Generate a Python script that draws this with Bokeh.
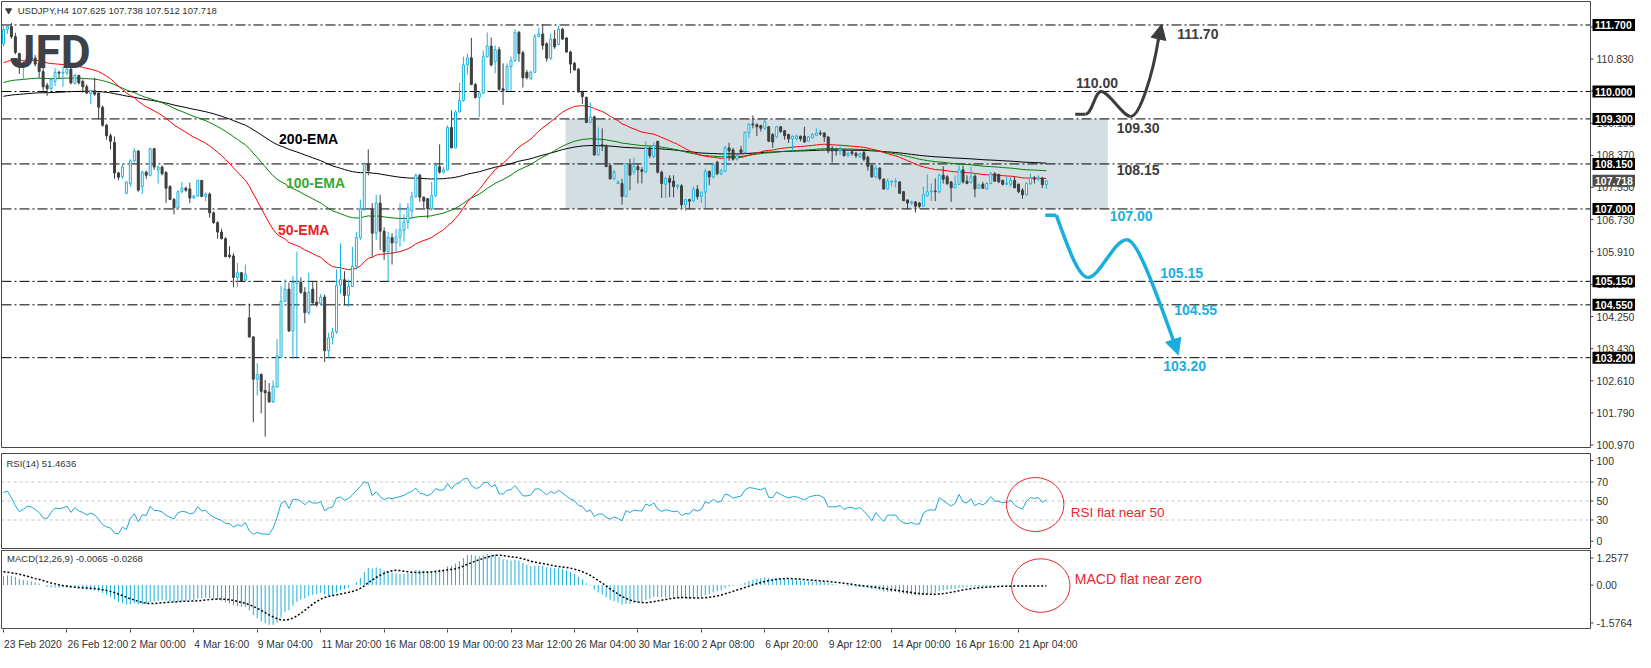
import numpy as np
from bokeh.plotting import figure
from bokeh.layouts import column
from bokeh.models import (Range1d, FixedTicker, Label, Arrow, NormalHead,
                          ColumnDataSource, LinearAxis)
from bokeh.core.properties import value
from bokeh.embed import file_html
from bokeh.resources import INLINE

# ---------------- data (USDJPY H4) ----------------
OPEN = [111.22, 111.59, 111.66, 111.40, 110.97, 110.64, 110.74, 110.87, 110.85, 110.72,
        110.51, 110.16, 110.07, 110.26, 110.49, 110.47, 110.47, 110.57, 110.21, 110.41,
        110.26, 110.12, 109.95, 110.02, 109.96, 109.60, 109.14, 108.87, 108.70, 107.92,
        107.83, 107.40, 107.65, 108.23, 108.48, 107.57, 107.94, 107.86, 108.54, 108.00,
        108.07, 107.93, 107.57, 107.24, 107.03, 107.44, 107.53, 107.51, 107.28, 107.33,
        107.73, 107.32, 107.38, 106.90, 106.65, 106.41, 106.24, 105.82, 105.80, 105.25,
        105.37, 105.18, 104.22, 103.73, 102.65, 102.77, 102.36, 102.32, 102.07, 102.45,
        103.21, 104.64, 104.95, 103.88, 105.10, 105.12, 104.87, 104.35, 104.95, 104.62,
        104.58, 104.75, 103.38, 103.71, 103.86, 105.05, 105.19, 104.79, 105.02, 105.54,
        106.27, 107.01, 108.15, 107.01, 106.38, 107.15, 106.43, 105.91, 106.27, 106.13,
        106.28, 106.45, 106.66, 106.95, 107.32, 107.86, 107.30, 107.26, 107.01, 107.34,
        108.08, 107.94, 108.00, 109.08, 108.56, 109.48, 109.77, 110.68, 110.86, 110.18,
        109.85, 109.96, 110.89, 111.16, 110.76, 111.07, 110.07, 110.04, 110.64, 110.79,
        111.51, 110.99, 110.49, 110.32, 110.49, 111.41, 111.47, 111.22, 110.85, 111.34,
        111.20, 111.59, 111.37, 111.01, 110.72, 110.57, 109.99, 109.85, 109.21, 109.35,
        108.38, 108.64, 108.60, 108.11, 107.77, 107.65, 107.65, 107.32, 108.15, 107.94,
        108.08, 108.00, 107.94, 108.56, 108.34, 108.73, 107.94, 107.63, 107.78, 107.71,
        107.57, 107.59, 107.11, 107.24, 107.20, 107.50, 107.32, 107.43, 107.96, 107.82,
        108.19, 107.90, 107.96, 108.56, 108.51, 108.27, 108.51, 108.44, 108.95, 109.17,
        109.15, 109.13, 109.06, 109.10, 108.90, 108.84, 109.10, 109.00, 108.90, 108.79,
        108.80, 108.86, 108.86, 108.73, 108.82, 108.88, 108.94, 108.94, 108.84, 108.54,
        108.52, 108.48, 108.51, 108.37, 108.46, 108.42, 108.34, 108.44, 108.32, 108.11,
        107.82, 108.04, 107.76, 107.51, 107.69, 107.69, 107.69, 107.44, 107.23, 107.15,
        107.18, 107.15, 107.07, 107.34, 107.44, 107.46, 107.44, 107.86, 107.82, 107.69,
        107.54, 107.63, 108.00, 107.71, 107.68, 107.84, 107.53, 107.63, 107.51, 107.65,
        107.90, 107.88, 107.73, 107.63, 107.63, 107.73, 107.63, 107.48, 107.36, 107.65,
        107.79, 107.76, 107.79, 107.625]
HIGH = [111.68, 111.72, 111.75, 111.50, 110.99, 110.80, 110.95, 110.96, 110.93, 110.80,
        110.60, 110.22, 110.35, 110.60, 110.53, 110.64, 110.72, 110.60, 110.45, 110.43,
        110.31, 110.18, 110.03, 110.35, 109.98, 109.64, 109.18, 108.93, 108.85, 107.95,
        108.15, 107.69, 108.27, 108.55, 108.50, 107.98, 107.98, 108.56, 108.56, 108.11,
        108.11, 107.97, 107.61, 107.28, 107.48, 107.69, 107.57, 107.67, 107.36, 107.74,
        107.74, 107.42, 107.42, 106.94, 106.69, 106.49, 106.28, 106.05, 105.87, 105.62,
        105.39, 105.58, 104.58, 103.75, 103.06, 102.80, 102.63, 102.55, 102.62, 103.67,
        105.04, 105.20, 105.12, 105.29, 105.91, 105.25, 105.00, 105.37, 105.16, 105.16,
        104.83, 104.81, 103.83, 103.96, 105.45, 106.12, 105.41, 105.20, 106.03, 106.41,
        107.24, 108.19, 108.52, 107.15, 107.36, 107.36, 106.53, 106.41, 106.38, 106.49,
        107.15, 106.86, 107.15, 107.44, 107.90, 107.90, 107.32, 107.28, 107.69, 108.19,
        108.65, 108.07, 109.14, 109.52, 109.52, 110.22, 110.89, 110.97, 111.37, 110.22,
        109.99, 111.05, 111.51, 111.38, 111.18, 111.14, 110.72, 110.72, 110.89, 111.59,
        111.55, 111.04, 110.55, 110.54, 111.47, 111.63, 111.72, 111.26, 111.48, 111.57,
        111.68, 111.63, 111.38, 111.04, 110.76, 110.60, 110.02, 109.87, 109.72, 109.39,
        109.08, 109.06, 108.65, 108.13, 108.00, 107.73, 107.77, 108.16, 108.28, 108.31,
        108.15, 108.07, 108.73, 108.60, 108.70, 108.73, 107.98, 107.82, 107.86, 107.86,
        107.63, 107.63, 107.24, 107.26, 107.57, 107.61, 107.44, 108.03, 107.98, 108.15,
        108.23, 108.01, 108.61, 108.69, 108.56, 108.40, 108.61, 108.98, 109.19, 109.39,
        109.19, 109.15, 109.28, 109.12, 108.94, 109.12, 109.12, 109.02, 108.92, 108.87,
        108.90, 108.87, 109.10, 108.86, 108.94, 109.06, 109.01, 108.96, 108.86, 108.61,
        108.56, 108.62, 108.52, 108.46, 108.50, 108.46, 108.44, 108.48, 108.36, 108.13,
        108.11, 108.07, 107.78, 107.78, 107.73, 107.78, 107.71, 107.46, 107.24, 107.21,
        107.20, 107.18, 107.57, 107.88, 107.65, 107.78, 107.90, 108.09, 107.86, 107.71,
        107.86, 108.11, 108.11, 107.86, 108.07, 107.88, 107.65, 107.69, 107.68, 107.94,
        107.94, 107.90, 107.75, 107.82, 107.82, 107.82, 107.65, 107.53, 107.68, 107.90,
        107.84, 107.86, 107.82, 107.738]
LOW = [111.15, 111.47, 111.35, 110.95, 110.45, 110.32, 110.70, 110.80, 110.64, 110.35,
       110.02, 109.89, 110.02, 110.14, 110.35, 110.12, 110.41, 110.18, 110.18, 110.18,
       109.97, 109.93, 109.68, 109.89, 109.29, 109.10, 108.77, 108.52, 107.77, 107.73,
       107.77, 107.38, 107.57, 108.19, 107.44, 107.38, 107.77, 107.83, 108.00, 107.65,
       107.86, 107.15, 107.24, 106.86, 107.00, 107.40, 107.44, 107.15, 107.26, 107.32,
       107.32, 107.20, 106.78, 106.62, 106.24, 106.22, 105.77, 105.74, 105.00, 105.00,
       105.14, 105.16, 103.71, 101.55, 102.23, 101.78, 101.18, 102.05, 102.05, 102.43,
       103.20, 104.62, 103.86, 103.20, 103.21, 104.83, 104.08, 104.29, 104.58, 104.50,
       104.54, 103.09, 103.20, 103.54, 103.81, 104.83, 104.54, 104.50, 105.00, 105.45,
       106.20, 106.95, 107.86, 105.78, 106.20, 105.95, 105.70, 105.14, 105.58, 105.87,
       106.03, 106.16, 106.49, 106.74, 107.28, 107.18, 107.03, 106.76, 106.95, 107.30,
       107.90, 107.90, 107.98, 108.55, 108.55, 109.46, 109.74, 110.43, 110.16, 109.82,
       109.35, 109.94, 110.87, 110.64, 110.47, 110.02, 109.66, 110.02, 110.02, 110.76,
       110.76, 110.10, 110.31, 110.31, 110.47, 111.38, 111.07, 110.76, 110.80, 111.09,
       111.18, 111.31, 110.99, 110.47, 110.54, 109.97, 109.68, 109.19, 109.19, 108.36,
       108.36, 108.48, 108.07, 107.75, 107.73, 107.63, 107.11, 107.30, 107.48, 107.88,
       107.65, 107.65, 107.92, 108.30, 108.30, 107.90, 107.28, 107.28, 107.30, 107.30,
       107.50, 107.03, 106.95, 107.00, 107.18, 107.24, 107.15, 107.03, 107.61, 107.78,
       107.86, 107.86, 107.94, 108.23, 108.23, 108.23, 108.40, 108.40, 108.81, 109.06,
       108.86, 108.98, 109.02, 108.71, 108.56, 108.81, 108.94, 108.77, 108.69, 108.48,
       108.75, 108.73, 108.69, 108.71, 108.79, 108.86, 108.87, 108.71, 108.42, 108.19,
       108.36, 108.38, 108.34, 108.32, 108.36, 108.30, 108.30, 108.22, 107.98, 107.80,
       107.78, 107.73, 107.49, 107.49, 107.57, 107.55, 107.38, 107.20, 106.99, 107.11,
       106.91, 107.03, 107.05, 107.32, 107.20, 107.20, 107.40, 107.65, 107.61, 107.18,
       107.53, 107.61, 107.65, 107.63, 107.65, 107.30, 107.51, 107.51, 107.49, 107.63,
       107.69, 107.66, 107.60, 107.61, 107.57, 107.53, 107.40, 107.26, 107.35, 107.61,
       107.65, 107.71, 107.53, 107.512]
CLOSE = [111.59, 111.66, 111.40, 111.00, 110.64, 110.74, 110.89, 110.84, 110.70, 110.51,
         110.12, 110.07, 110.31, 110.49, 110.47, 110.49, 110.57, 110.22, 110.41, 110.22,
         110.12, 109.96, 110.03, 109.93, 109.60, 109.14, 108.87, 108.73, 107.92, 107.81,
         108.07, 107.69, 108.23, 108.48, 107.48, 107.94, 107.86, 108.54, 108.07, 108.07,
         107.90, 107.53, 107.24, 107.03, 107.44, 107.53, 107.48, 107.28, 107.33, 107.73,
         107.32, 107.38, 106.90, 106.65, 106.41, 106.24, 105.78, 105.78, 105.25, 105.37,
         105.16, 105.33, 103.73, 102.65, 102.77, 102.34, 102.30, 102.07, 102.47, 103.25,
         104.64, 104.95, 103.88, 105.12, 105.15, 104.87, 104.35, 104.87, 104.60, 104.56,
         104.75, 103.38, 103.71, 103.86, 105.05, 105.20, 104.79, 105.02, 105.54, 106.27,
         107.01, 108.15, 107.98, 106.38, 107.15, 106.43, 105.91, 106.27, 106.13, 106.28,
         106.47, 106.66, 107.03, 107.32, 107.86, 107.30, 107.20, 107.01, 107.34, 108.11,
         107.94, 108.00, 109.08, 108.56, 109.48, 109.77, 110.68, 110.86, 110.18, 109.85,
         109.96, 110.89, 111.16, 110.68, 111.07, 110.06, 110.02, 110.64, 110.79, 111.51,
         110.97, 110.35, 110.35, 110.49, 111.41, 111.47, 111.18, 110.85, 111.34, 111.14,
         111.59, 111.34, 111.01, 110.70, 110.55, 109.99, 109.87, 109.21, 109.35, 108.38,
         108.60, 108.60, 108.08, 107.77, 107.94, 107.69, 107.32, 108.16, 107.86, 108.08,
         108.00, 107.96, 108.56, 108.36, 108.62, 107.94, 107.65, 107.78, 107.68, 107.57,
         107.61, 107.11, 107.24, 107.20, 107.50, 107.32, 107.43, 107.96, 107.82, 108.13,
         107.90, 107.98, 108.56, 108.48, 108.27, 108.37, 108.44, 108.95, 109.17, 109.15,
         109.10, 109.06, 109.23, 108.73, 108.71, 109.10, 108.98, 108.87, 108.79, 108.86,
         108.86, 108.79, 108.71, 108.84, 108.90, 108.94, 108.92, 108.84, 108.48, 108.48,
         108.48, 108.52, 108.36, 108.42, 108.42, 108.36, 108.40, 108.27, 108.09, 107.82,
         108.04, 107.78, 107.51, 107.71, 107.71, 107.71, 107.40, 107.21, 107.15, 107.18,
         107.07, 107.07, 107.36, 107.44, 107.46, 107.44, 107.86, 107.76, 107.65, 107.54,
         107.63, 108.00, 107.69, 107.65, 107.82, 107.51, 107.61, 107.53, 107.65, 107.90,
         107.71, 107.69, 107.63, 107.65, 107.73, 107.54, 107.44, 107.36, 107.65, 107.79,
         107.76, 107.79, 107.62, 107.718]

DATE_TICKS = [0, 16, 32, 48, 64, 80, 96, 112, 128, 144, 160, 176, 192, 208, 224, 240, 256]
DATE_LABELS = ["23 Feb 2020", "26 Feb 12:00", "2 Mar 00:00", "4 Mar 16:00", "9 Mar 04:00",
               "11 Mar 20:00", "16 Mar 08:00", "19 Mar 00:00", "23 Mar 12:00", "26 Mar 04:00",
               "30 Mar 16:00", "2 Apr 08:00", "6 Apr 20:00", "9 Apr 12:00", "14 Apr 00:00",
               "16 Apr 16:00", "21 Apr 04:00"]
PRICE_TICKS = [100.97, 101.79, 102.61, 103.43, 104.25, 105.07, 105.91, 106.73, 107.55,
               108.37, 109.19, 110.01, 110.83, 111.65]
LEVELS = [111.70, 110.00, 109.30, 108.15, 107.00, 105.15, 104.55, 103.20]
LAST_PRICE = 107.718
RANGE_BOX = dict(left=141.75, right=278.5, bottom=107.00, top=109.30)
RSI_LEVELS = [30, 50, 70]
RSI_SCALE = [0, 30, 50, 70, 100]
MACD_LO, MACD_HI = -1.5764, 1.2577

# indicator starting states (values before the first bar)
EMA_SEEDS = {50: 110.70, 100: 110.20, 200: 109.86}
RSI_PREV_CLOSE, RSI_AVG_GAIN, RSI_AVG_LOSS = 111.25, 0.075, 0.070
MACD_EMA12, MACD_EMA26, MACD_SIGNAL_PREV = 111.00, 110.70, 0.50

# ---------------- indicators ----------------
closes = np.array(CLOSE)
n = len(closes)
idx = np.arange(n)

def ema(vals, period, seed):
    a = 2.0 / (period + 1)
    out, e = [], seed
    for v in vals:
        e = e + a * (v - e)
        out.append(e)
    return np.array(out)

ema50 = ema(closes, 50, EMA_SEEDS[50])
ema100 = ema(closes, 100, EMA_SEEDS[100])
ema200 = ema(closes, 200, EMA_SEEDS[200])

rsi = []
prev, ag, al = RSI_PREV_CLOSE, RSI_AVG_GAIN, RSI_AVG_LOSS
for cval in closes:
    d = cval - prev
    ag = (ag * 13 + max(d, 0)) / 14
    al = (al * 13 + max(-d, 0)) / 14
    rsi.append(100 * ag / (ag + al))
    prev = cval
rsi = np.array(rsi)

macd = ema(closes, 12, MACD_EMA12) - ema(closes, 26, MACD_EMA26)
hist_ext = np.concatenate([np.full(8, MACD_SIGNAL_PREV), macd])
signal = np.array([hist_ext[i:i + 9].mean() for i in range(n)])

# ---------------- layout constants ----------------
W = 1635
PANEL_W = 1589                   # drawn panel width (px), price strip to its right
X0, XP = -0.5, 400.25            # panel extent in bar units
PXB = PANEL_W / (XP - X0)        # pixels per bar
XS = X0 - 1 / PXB                # 1px blank at the left so the border is fully drawn
XR = Range1d(XS, XS + W / PXB)

CYAN = "#19b2de"
DARK = "#3f3f3f"
BORDER = "#474747"
AXFONT = "Liberation Sans"
RED = "#e8262e"
LBL = "#333333"
SCALE_FS = "10.5px"


def new_fig(height, y0, y1, **kw):
    f = figure(width=W, height=height, x_range=XR, y_range=Range1d(y0, y1),
               output_backend="svg", toolbar_location=None,
               x_axis_location=kw.pop("x_axis_location", None), y_axis_location=None,
               min_border_left=0, min_border_right=0, **kw)
    f.grid.visible = False
    f.outline_line_color = None
    f.background_fill_color = "white"
    f.border_fill_color = "white"
    return f


def panel_scale(f, ybot, ytop, ticks, labels):
    f.quad(left=[X0], right=[XP], bottom=[ybot], top=[ytop], fill_color=None,
           line_color=BORDER, line_width=1)
    k = len(ticks)
    f.segment(x0=[XP] * k, y0=ticks, x1=[XP + 3 / PXB] * k, y1=ticks,
              line_color=BORDER, line_width=1)
    f.text(x=[XP + 6 / PXB] * k, y=ticks, text=labels, text_font=value(AXFONT),
           text_font_size=value(SCALE_FS), text_color=LBL, text_baseline="middle",
           text_align="left")


# ---------------- main price panel ----------------
Y_TOP, Y_BOT = 112.30, 100.905
MAIN_H = 446
upp = (Y_TOP - Y_BOT) / MAIN_H           # price units per pixel
p = new_fig(1 + MAIN_H + 5, Y_BOT - 5 * upp, Y_TOP + 1 * upp,
            min_border_top=0, min_border_bottom=0)

p.quad(left=[RANGE_BOX["left"]], right=[RANGE_BOX["right"]], bottom=[RANGE_BOX["bottom"]],
       top=[RANGE_BOX["top"]], fill_color="#d3dee2", line_color=None)
p.segment(x0=[X0] * len(LEVELS), y0=LEVELS, x1=[XP] * len(LEVELS), y1=LEVELS,
          line_color="black", line_width=1, line_dash="10 3 2 3")

p.line(idx, ema200, line_color="black", line_width=1)
p.line(idx, ema100, line_color="#008000", line_width=1)
p.line(idx, ema50, line_color="#ff0000", line_width=1)

o = np.array(OPEN); h = np.array(HIGH); l = np.array(LOW); c = closes
up = c >= o
dn = ~up
src_up = ColumnDataSource(dict(x=idx[up], h=h[up], l=l[up], top=c[up], bot=o[up]))
src_dn = ColumnDataSource(dict(x=idx[dn], h=h[dn], l=l[dn], top=o[dn], bot=c[dn]))
p.segment(x0="x", y0="h", x1="x", y1="l", source=src_up, line_color=CYAN, line_width=1)
p.segment(x0="x", y0="h", x1="x", y1="l", source=src_dn, line_color=DARK, line_width=1)
p.vbar(x="x", width=0.5, top="top", bottom="bot", source=src_up,
       fill_color="white", line_color=CYAN, line_width=1)
p.vbar(x="x", width=0.5, top="top", bottom="bot", source=src_dn,
       fill_color=DARK, line_color=DARK, line_width=1)

panel_scale(p, Y_BOT, Y_TOP, PRICE_TICKS, ["%.3f" % v for v in PRICE_TICKS])

box_x = XP + (2 + 21.5) / PXB
p.rect(x=[box_x] * len(LEVELS), y=LEVELS, width=43, height=12, width_units="screen",
       height_units="screen", fill_color="black", line_color=None)
p.text(x=[XP + 4.5 / PXB] * len(LEVELS), y=LEVELS, text=["%.3f" % v for v in LEVELS],
       text_font=value(AXFONT), text_font_size=value(SCALE_FS), text_font_style="bold",
       text_color="white", text_baseline="middle", text_align="left")
p.rect(x=[box_x], y=[LAST_PRICE], width=43, height=12, width_units="screen",
       height_units="screen", fill_color="#4d4d4d", line_color=None)
p.text(x=[XP + 4.5 / PXB], y=[LAST_PRICE], text=["%.3f" % LAST_PRICE],
       text_font=value(AXFONT), text_font_size=value(SCALE_FS), text_font_style="bold",
       text_color="white", text_baseline="middle", text_align="left")

# EMA labels
for txt, x, y, col in [("200-EMA", 69.5, 108.78, "black"),
                       ("100-EMA", 71.25, 107.66, "#35a835"),
                       ("50-EMA", 69.25, 106.46, "#ee1c25")]:
    p.add_layout(Label(x=x, y=y, text=txt, text_color=col, text_font=AXFONT,
                       text_font_style="bold", text_font_size="14px",
                       text_baseline="middle", text_align="left"))

# scenario paths
BLK = "#3c3c3c"
p.line([270.3, 272.9], [109.42, 109.42], line_color=BLK, line_width=3)
p.bezier(x0=[272.9, 276.8, 284.3], y0=[109.42, 110.0, 109.36],
         x1=[276.8, 284.3, 291.3], y1=[110.0, 109.36, 111.35],
         cx0=[274.5, 278.8, 286.5], cy0=[109.42, 110.0, 109.36],
         cx1=[275.3, 282.3, 289.8], cy1=[110.0, 109.36, 110.4],
         line_color=BLK, line_width=3)
p.add_layout(Arrow(end=NormalHead(size=15, fill_color=BLK, line_color=BLK),
                   x_start=291.2, y_start=111.3, x_end=292.1, y_end=111.72,
                   line_color=BLK, line_width=3))

CY2 = "#1aaede"
p.line([262.75, 265.5], [106.84, 106.84], line_color=CY2, line_width=3.5)
p.bezier(x0=[265.5, 273.5, 283.3], y0=[106.84, 105.25, 106.21],
         x1=[273.5, 283.3, 295.2], y1=[105.25, 106.21, 103.6],
         cx0=[268.2, 276.5, 285.5], cy0=[106.1, 105.25, 106.21],
         cx1=[271.0, 280.0, 288.5], cy1=[105.25, 106.21, 105.5],
         line_color=CY2, line_width=3.5)
p.add_layout(Arrow(end=NormalHead(size=16, fill_color=CY2, line_color=CY2),
                   x_start=295.0, y_start=103.66, x_end=296.3, y_end=103.27,
                   line_color=CY2, line_width=3.5))

for txt, x, y, col in [("110.00", 270.5, 110.225, BLK), ("109.30", 280.75, 109.08, BLK),
                       ("108.15", 280.75, 107.985, BLK), ("111.70", 296.0, 111.47, BLK),
                       ("107.00", 279.0, 106.81, CY2), ("105.15", 291.75, 105.37, CY2),
                       ("104.55", 295.25, 104.41, CY2), ("103.20", 292.5, 102.98, CY2)]:
    p.add_layout(Label(x=x, y=y, text=txt, text_color=col, text_font=AXFONT,
                       text_font_style="bold", text_font_size="14px",
                       text_baseline="middle", text_align="left"))

# title and logo
p.scatter(x=[1.3], y=[112.07], marker="inverted_triangle", size=6, color="#404040")
p.add_layout(Label(x=3.6, y=112.075, text="USDJPY,H4 107.625 107.738 107.512 107.718",
                   text_font=AXFONT, text_font_size="9.5px", text_color=LBL,
                   text_baseline="middle", text_align="left"))
p.add_layout(Label(x=1.6, y=111.02, text="JFD", text_font="Roboto", text_font_style="bold",
                   text_font_size="46px", text_color="#3d4249",
                   text_baseline="alphabetic", text_align="left"))

# ---------------- RSI panel ----------------
RSI_H = 95
ur = 100 / RSI_H
r = new_fig(RSI_H + 2, -ur, 100 + ur, min_border_top=0, min_border_bottom=0)
for lv in RSI_LEVELS:
    r.segment(x0=[X0], y0=[lv], x1=[XP], y1=[lv], line_color="#c4c4c4",
              line_width=1, line_dash="3 3")
r.line(idx, rsi, line_color="#1ca6d8", line_width=1)
# MT4 prints the 0 / 100 captions just inside the panel edges
rsi_pos = [7.3 * ur, 30, 50, 70, 100 - 7.0 * ur]
panel_scale(r, 0, 100, rsi_pos, [str(v) for v in RSI_SCALE])
r.add_layout(Label(x=0.75, y=90, text="RSI(14) 51.4636", text_font=AXFONT,
                   text_font_size="9.5px", text_color=LBL,
                   text_baseline="middle", text_align="left"))
r.ellipse(x=[260.2], y=[46.3], width=[14.5], height=[57], fill_color=None,
          line_color=RED, line_width=1)
r.add_layout(Label(x=269.15, y=38.2, text="RSI flat near 50", text_font=AXFONT,
                   text_font_size="13.5px", text_color=RED,
                   text_baseline="middle", text_align="left"))

# ---------------- MACD panel ----------------
MACD_H = 83
um = (MACD_HI - MACD_LO) / MACD_H
DATE_FS = 10.3
m = new_fig(2 + MACD_H + 18, MACD_LO - um, MACD_HI + um, x_axis_location="below",
            min_border_top=0, min_border_bottom=18)
m.segment(x0=idx, y0=np.zeros(n), x1=idx, y1=macd, line_color="#1ab0d8", line_width=1)
m.line(idx, signal, line_color="black", line_width=1.5, line_dash="2 2")
panel_scale(m, MACD_LO, MACD_HI, [MACD_LO + 6 * um, 0, MACD_HI - 8 * um],
            ["%.4f" % MACD_LO, "0.00", "%.4f" % MACD_HI])
m.add_layout(Label(x=0.9, y=0.96, text="MACD(12,26,9) -0.0065 -0.0268", text_font=AXFONT,
                   text_font_size="9.5px", text_color=LBL,
                   text_baseline="middle", text_align="left"))
m.ellipse(x=[261.6], y=[-0.016], width=[14.75], height=[1.944], fill_color=None,
          line_color=RED, line_width=1)
m.add_layout(Label(x=270.2, y=0.214, text="MACD flat near zero", text_font=AXFONT,
                   text_font_size="14px", text_color=RED,
                   text_baseline="middle", text_align="left"))

# date axis: tick marks at the bars, captions starting at the tick (MT4 style)
xa = m.xaxis[0]
xa.ticker = FixedTicker(ticks=DATE_TICKS)
xa.major_label_overrides = {t: "" for t in DATE_TICKS}
xa.major_label_text_font_size = "1px"
xa.major_label_standoff = 0
xa.axis_line_color = None
xa.major_tick_in = 0
xa.major_tick_out = 3
xa.major_tick_line_color = BORDER
xa.minor_tick_line_color = None

CW = {" ": 0.278, ":": 0.278, "F": 0.611, "e": 0.556, "b": 0.556, "M": 0.833,
      "a": 0.556, "r": 0.333, "A": 0.667, "p": 0.556}
def text_w(s):
    return sum(CW.get(ch, 0.556) for ch in s) * DATE_FS

centers = [round(t + (text_w(s) / 2 + 0.5) / PXB, 3) for t, s in zip(DATE_TICKS, DATE_LABELS)]
xb = LinearAxis(ticker=FixedTicker(ticks=centers),
                major_label_overrides={cx: s for cx, s in zip(centers, DATE_LABELS)},
                axis_line_color=None, major_tick_line_color=None, minor_tick_line_color=None,
                major_label_text_font=AXFONT, major_label_text_font_size="%gpx" % DATE_FS,
                major_label_text_color=LBL, major_label_standoff=0)
m.add_layout(xb, "below")

layout = column(p, r, m, spacing=0)
open("out.html", "w").write(file_html(layout, INLINE))
